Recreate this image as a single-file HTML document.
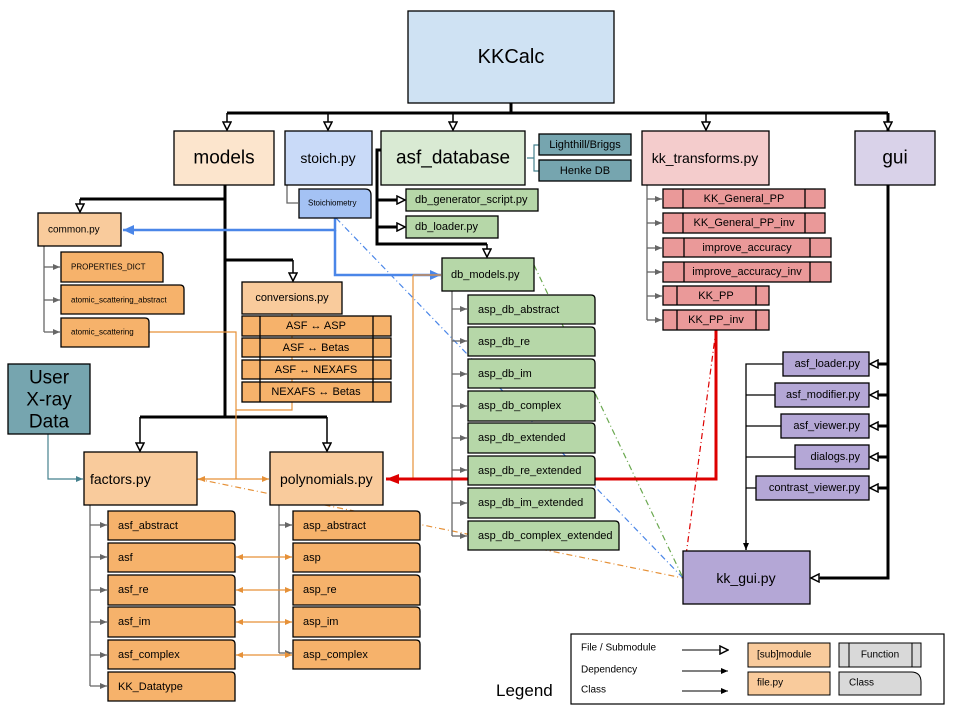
<!DOCTYPE html>
<html><head><meta charset="utf-8"><style>
body{margin:0;background:#fff}
svg{display:block;font-family:"Liberation Sans",sans-serif}
</style></head><body>
<svg width="960" height="720" viewBox="0 0 960 720" xmlns="http://www.w3.org/2000/svg">
<defs>
<marker id="h" markerWidth="10" markerHeight="10" refX="9" refY="5" orient="auto" markerUnits="userSpaceOnUse"><path d="M1,1 L9,5 L1,9 Z" fill="#fff" stroke="#000" stroke-width="1.5"/></marker>
<marker id="g" markerWidth="8" markerHeight="8" refX="7" refY="4" orient="auto" markerUnits="userSpaceOnUse"><path d="M0,1 L7,4 L0,7 Z" fill="#666"/></marker>
<marker id="k" markerWidth="8" markerHeight="8" refX="7" refY="4" orient="auto" markerUnits="userSpaceOnUse"><path d="M0,1 L7,4 L0,7 Z" fill="#000"/></marker>
<marker id="b" markerWidth="12" markerHeight="12" refX="11" refY="6" orient="auto" markerUnits="userSpaceOnUse"><path d="M0,1 L11,6 L0,11 Z" fill="#4a86e8"/></marker>
<marker id="o" markerWidth="8" markerHeight="8" refX="7" refY="4" orient="auto-start-reverse" markerUnits="userSpaceOnUse"><path d="M0,1 L7,4 L0,7 Z" fill="#e69138"/></marker>
<marker id="r" markerWidth="14" markerHeight="12" refX="13" refY="6" orient="auto" markerUnits="userSpaceOnUse"><path d="M0,1 L13,6 L0,11 Z" fill="#d00"/></marker>
<marker id="t" markerWidth="8" markerHeight="8" refX="7" refY="4" orient="auto" markerUnits="userSpaceOnUse"><path d="M0,1 L7,4 L0,7 Z" fill="#45818e"/></marker>
</defs>

<!-- dashed dependency lines -->
<g fill="none" stroke-width="1.2" stroke-dasharray="6,3,1,3">
<path d="M197,479 L683,578" stroke="#e69138"/>
<path d="M336,218 L683,578" stroke="#4a86e8"/>
<path d="M534,265 L683,578" stroke="#6aa84f"/>
<path d="M716,330 L683,578" stroke="#d00"/>
</g>

<!-- black hierarchy -->
<g fill="none" stroke="#000" stroke-width="3">
<path d="M511,103 V113 M227,113 H888"/>
<path d="M225,185 V417 M140,417 H327"/>
<path d="M225,199 H80 M225,260 H293"/>
<path d="M381,150 H377 V244 H487 M377,200 H402 M377,227 H402"/>
<path d="M888,113 V578 H820"/>
<path d="M888,364 H873 M888,395 H873 M888,426 H873 M888,457 H873 M888,488 H873"/>
</g>
<g fill="none" stroke="#000" stroke-width="1.5" marker-end="url(#h)">
<path d="M227,113 V130"/><path d="M328,113 V130"/><path d="M453,113 V130"/><path d="M706,113 V130"/><path d="M888,113 V130"/>
<path d="M140,417 V451"/><path d="M327,417 V451"/><path d="M80,199 V212"/><path d="M293,260 V281"/>
<path d="M487,244 V257"/><path d="M395,200 H405"/><path d="M395,227 H405"/>
<path d="M880,364 H870"/><path d="M880,395 H870"/><path d="M880,426 H870"/><path d="M880,457 H870"/><path d="M880,488 H870"/><path d="M822,578 H811"/>
</g>
<path d="M783,364 H746 V550 M775,395 H746 M781,426 H746 M795,457 H746 M756,488 H746" fill="none" stroke="#000" stroke-width="1.3"/>
<path d="M746,540 V550" stroke="#000" stroke-width="1.3" marker-end="url(#k)"/>

<!-- gray class links -->
<g fill="none" stroke="#666" stroke-width="1.3">
<path d="M44,246 V332"/><path d="M90,505 V686"/><path d="M279,505 V653"/><path d="M452,291 V536"/><path d="M647,185 V320"/>
<path d="M303,196 H299" />
<path d="M287,185 V203 H298"/>
</g>
<g stroke="#666" stroke-width="1.3" marker-end="url(#g)">
<path d="M44,267 H60"/><path d="M44,300 H60"/><path d="M44,332 H60"/>
<path d="M90,525 H107"/><path d="M90,557 H107"/><path d="M90,590 H107"/><path d="M90,622 H107"/><path d="M90,655 H107"/><path d="M90,686 H107"/>
<path d="M279,525 H292"/><path d="M279,653 H292"/>
<path d="M452,309 H467"/><path d="M452,341 H467"/><path d="M452,374 H467"/><path d="M452,406 H467"/><path d="M452,438 H467"/><path d="M452,470 H467"/><path d="M452,503 H467"/><path d="M452,536 H467"/>
<path d="M647,199 H662"/><path d="M647,223 H662"/><path d="M647,248 H662"/><path d="M647,272 H662"/><path d="M647,296 H662"/><path d="M647,320 H662"/>
</g>

<!-- teal -->
<path d="M539,145 H534 V158 H527 M534,158 V171 H539" fill="none" stroke="#45818e" stroke-width="1.2"/>
<path d="M48,434 V479 H83" fill="none" stroke="#45818e" stroke-width="1.2" marker-end="url(#t)"/>

<!-- blue -->
<path d="M335,218 V230 H123" fill="none" stroke="#4a86e8" stroke-width="2.5" marker-end="url(#b)"/>
<path d="M335,230 V275 H441" fill="none" stroke="#4a86e8" stroke-width="2.5" marker-end="url(#b)"/>

<!-- orange -->
<g fill="none" stroke="#e69138" stroke-width="1.2">
<path d="M149,332 H236 V479"/>
<path d="M292,314 V410 H236"/>
<path d="M413,275 V479"/>
<path d="M413,275 H441"/>
</g>
<g fill="none" stroke="#e69138" stroke-width="1.2" marker-start="url(#o)" marker-end="url(#o)">
<path d="M198,479 H269"/>
<path d="M236,557 H292"/><path d="M236,590 H292"/><path d="M236,622 H292"/><path d="M236,655 H292"/>
</g>

<!-- red -->
<path d="M716,330 V479 H386" fill="none" stroke="#d00" stroke-width="3" marker-end="url(#r)"/>

<!-- boxes -->
<g stroke="#000" stroke-width="1.3" text-anchor="middle" dominant-baseline="central">
<rect x="408" y="11" width="206" height="92" fill="#cfe2f3"/><text x="511" y="57" font-size="20" stroke="none">KKCalc</text>
<rect x="174" y="131" width="100" height="54" fill="#fce5cd"/><text x="224" y="158" font-size="19" stroke="none">models</text>
<rect x="285" y="131" width="87" height="54" fill="#c9daf8"/><text x="328" y="158" font-size="14" stroke="none">stoich.py</text>
<rect x="381" y="131" width="144" height="54" fill="#d9ead3"/><text x="453" y="158" font-size="19" stroke="none">asf_database</text>
<rect x="539" y="134" width="92" height="21" fill="#76a5af"/><text x="585" y="145" font-size="11" stroke="none">Lighthill/Briggs</text>
<rect x="539" y="160" width="92" height="21" fill="#76a5af"/><text x="585" y="171" font-size="11" stroke="none">Henke DB</text>
<rect x="642" y="131" width="127" height="54" fill="#f4cccc"/><text x="705" y="158" font-size="14" stroke="none">kk_transforms.py</text>
<rect x="855" y="131" width="80" height="54" fill="#d9d2e9"/><text x="895" y="158" font-size="19" stroke="none">gui</text>
<rect x="8" y="364" width="82" height="70" fill="#76a5af"/><text x="49" y="378" font-size="19" stroke="none">User</text><text x="49" y="400" font-size="19" stroke="none">X-ray</text><text x="49" y="422" font-size="19" stroke="none">Data</text>
<rect x="84" y="452" width="113" height="53" fill="#f9cb9c"/><text x="90" y="479" font-size="14" stroke="none" text-anchor="start">factors.py</text>
<rect x="270" y="452" width="113" height="53" fill="#f9cb9c"/><text x="280" y="479" font-size="14" stroke="none" text-anchor="start">polynomials.py</text>
<rect x="38" y="213" width="83" height="33" fill="#f9cb9c"/><text x="48" y="230" font-size="10" stroke="none" text-anchor="start">common.py</text>
<rect x="242" y="282" width="100" height="32" fill="#f9cb9c"/><text x="292" y="298" font-size="11" stroke="none">conversions.py</text>
<rect x="442" y="258" width="92" height="33" fill="#b6d7a8"/><text x="451" y="275" font-size="11" stroke="none" text-anchor="start">db_models.py</text>
<rect x="406" y="189" width="132" height="22" fill="#b6d7a8"/><text x="415" y="200" font-size="11" stroke="none" text-anchor="start">db_generator_script.py</text>
<rect x="406" y="216" width="92" height="22" fill="#b6d7a8"/><text x="415" y="227" font-size="11" stroke="none" text-anchor="start">db_loader.py</text>
<rect x="683" y="551" width="127" height="53" fill="#b4a7d6"/><text x="746" y="578" font-size="14" stroke="none">kk_gui.py</text>
</g>

<!-- class shapes (rounded top-right) -->
<g stroke="#000" stroke-width="1.3" dominant-baseline="central" font-size="11">
<path d="M299,189 H365 Q371,189 371,195 V218 H299 Z" fill="#a4c2f4"/><text x="308" y="203" font-size="8" stroke="none">Stoichiometry</text>
<g fill="#f6b26b">
<path d="M61,252 H159 Q163,252 163,256 V282 H61 Z"/><path d="M61,285 H180 Q184,285 184,289 V314 H61 Z"/><path d="M61,318 H145 Q149,318 149,322 V347 H61 Z"/>
</g>
<text x="71" y="267" font-size="8" stroke="none">PROPERTIES_DICT</text>
<text x="71" y="300" font-size="8" stroke="none">atomic_scattering_abstract</text>
<text x="71" y="332" font-size="8" stroke="none">atomic_scattering</text>
</g>

<g stroke="#000" stroke-width="1.3" dominant-baseline="central" font-size="11">
<g fill="#f6b26b">
<path d="M108,511 H231 Q235,511 235,515 V540 H108 Z"/><path d="M108,543 H231 Q235,543 235,547 V572 H108 Z"/><path d="M108,575 H231 Q235,575 235,579 V605 H108 Z"/><path d="M108,607 H231 Q235,607 235,611 V637 H108 Z"/><path d="M108,640 H231 Q235,640 235,644 V669 H108 Z"/><path d="M108,672 H231 Q235,672 235,676 V701 H108 Z"/>
<path d="M293,511 H416 Q420,511 420,515 V540 H293 Z"/><path d="M293,543 H416 Q420,543 420,547 V572 H293 Z"/><path d="M293,575 H416 Q420,575 420,579 V605 H293 Z"/><path d="M293,607 H416 Q420,607 420,611 V637 H293 Z"/><path d="M293,640 H416 Q420,640 420,644 V669 H293 Z"/>
</g>
<g stroke="none">
<text x="118" y="526">asf_abstract</text><text x="118" y="558">asf</text><text x="118" y="590">asf_re</text><text x="118" y="622">asf_im</text><text x="118" y="655">asf_complex</text><text x="118" y="687">KK_Datatype</text>
<text x="303" y="526">asp_abstract</text><text x="303" y="558">asp</text><text x="303" y="590">asp_re</text><text x="303" y="622">asp_im</text><text x="303" y="655">asp_complex</text>
</g>
<g fill="#b6d7a8">
<path d="M468,295 H591 Q595,295 595,299 V324 H468 Z"/><path d="M468,327 H591 Q595,327 595,331 V356 H468 Z"/><path d="M468,359 H591 Q595,359 595,363 V388 H468 Z"/><path d="M468,391 H591 Q595,391 595,395 V421 H468 Z"/><path d="M468,423 H591 Q595,423 595,427 V453 H468 Z"/><path d="M468,456 H591 Q595,456 595,460 V485 H468 Z"/><path d="M468,488 H591 Q595,488 595,492 V518 H468 Z"/><path d="M468,521 H615 Q619,521 619,525 V550 H468 Z"/>
</g>
<g stroke="none">
<text x="478" y="310">asp_db_abstract</text><text x="478" y="342">asp_db_re</text><text x="478" y="374">asp_db_im</text><text x="478" y="406">asp_db_complex</text><text x="478" y="438">asp_db_extended</text><text x="478" y="471">asp_db_re_extended</text><text x="478" y="503">asp_db_im_extended</text><text x="478" y="536">asp_db_complex_extended</text>
</g>
</g>

<!-- function boxes -->
<g stroke="#000" stroke-width="1.3" dominant-baseline="central" text-anchor="middle" font-size="11">
<g fill="#f6b26b">
<rect x="242" y="316" width="149" height="20"/><rect x="242" y="338" width="149" height="19"/><rect x="242" y="360" width="149" height="19"/><rect x="242" y="382" width="149" height="20"/>
<path d="M260,316 V402 M373,316 V402"/>
</g>
<g stroke="none"><text x="316" y="326">ASF ↔ ASP</text><text x="316" y="348">ASF ↔ Betas</text><text x="316" y="370">ASF ↔ NEXAFS</text><text x="316" y="392">NEXAFS ↔ Betas</text></g>
<g fill="#ea9999">
<rect x="663" y="189" width="162" height="19"/><rect x="663" y="213" width="162" height="20"/><rect x="663" y="238" width="168" height="19"/><rect x="663" y="262" width="168" height="20"/><rect x="663" y="286" width="106" height="19"/><rect x="663" y="310" width="106" height="20"/>
<path d="M683,189 V208 M805,189 V208 M683,213 V233 M805,213 V233 M684,238 V257 M810,238 V257 M684,262 V282 M810,262 V282 M677,286 V305 M756,286 V305 M677,310 V330 M756,310 V330"/>
</g>
<g stroke="none"><text x="744" y="199">KK_General_PP</text><text x="744" y="223">KK_General_PP_inv</text><text x="747" y="248">improve_accuracy</text><text x="747" y="272">improve_accuracy_inv</text><text x="716" y="296">KK_PP</text><text x="716" y="320">KK_PP_inv</text></g>
<g fill="#b4a7d6" text-anchor="end">
<rect x="783" y="352" width="86" height="24"/><rect x="775" y="383" width="94" height="24"/><rect x="781" y="414" width="88" height="24"/><rect x="795" y="445" width="74" height="24"/><rect x="756" y="476" width="113" height="24"/>
</g>
<g stroke="none" text-anchor="end"><text x="860" y="364">asf_loader.py</text><text x="860" y="395">asf_modifier.py</text><text x="860" y="426">asf_viewer.py</text><text x="860" y="457">dialogs.py</text><text x="860" y="488">contrast_viewer.py</text></g>
</g>

<!-- legend -->
<text x="496" y="696" font-size="17">Legend</text>
<rect x="571" y="634" width="373" height="70" fill="none" stroke="#000" stroke-width="1.2"/>
<g font-size="10" dominant-baseline="central">
<text x="581" y="648">File / Submodule</text><text x="581" y="670">Dependency</text><text x="581" y="690">Class</text>
<path d="M682,650 H728" stroke="#000" marker-end="url(#h)"/>
<path d="M682,671 H728" stroke="#000" marker-end="url(#k)"/>
<path d="M682,691 H728" stroke="#000" marker-end="url(#k)"/>
<rect x="748" y="643" width="82" height="24" fill="#f9cb9c" stroke="#000"/><text x="757" y="655">[sub]module</text>
<rect x="748" y="672" width="82" height="23" fill="#f9cb9c" stroke="#000"/><text x="757" y="683">file.py</text>
<rect x="839" y="643" width="82" height="24" fill="#d9d9d9" stroke="#000"/><path d="M849,643 V667 M912,643 V667" stroke="#000"/><text x="880" y="655" text-anchor="middle">Function</text>
<path d="M839,672 H911 Q921,672 921,682 V695 H839 Z" fill="#d9d9d9" stroke="#000"/><text x="849" y="683">Class</text>
</g>
</svg>
</body></html>
